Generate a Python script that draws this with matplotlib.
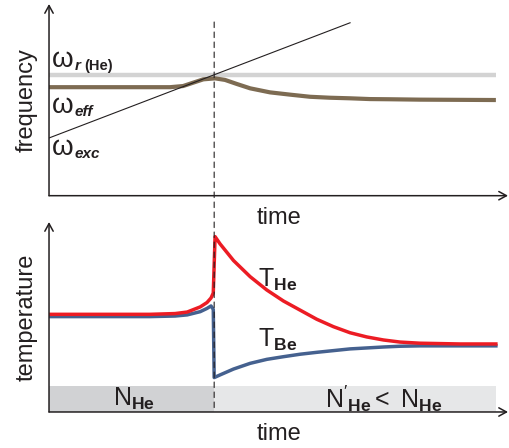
import numpy as np
import matplotlib
matplotlib.use("Agg")
import matplotlib.pyplot as plt
from matplotlib.patches import ConnectionPatch

plt.rcParams['font.family'] = ['Liberation Sans', 'DejaVu Sans']
plt.rcParams['mathtext.fontset'] = 'custom'
plt.rcParams['mathtext.rm'] = 'Liberation Sans'
plt.rcParams['mathtext.it'] = 'Liberation Sans:italic'
plt.rcParams['mathtext.bf'] = 'Liberation Sans:bold'
plt.rcParams['mathtext.bfit'] = 'Liberation Sans:bold:italic'

# event time (dashed line)
t_event = 3.67
t_end = 9.93

# top panel: frequencies
freq_res = 6.30
exc_time = [0, 6.69]
exc_freq = [3.01, 9.02]
eff_time = [0, 2.24, 2.69, 2.98, 3.21, 3.43, 3.69, 3.91, 4.17, 4.47, 4.91,
            5.36, 5.80, 6.24, 6.69, 7.13, 7.58, 8.24, 9.93]
eff_freq = [5.66, 5.66, 5.66, 5.72, 5.90, 6.07, 6.12, 6.04, 5.83, 5.60, 5.39,
            5.27, 5.16, 5.11, 5.08, 5.04, 5.03, 5.01, 4.99]

# bottom panel: temperatures
he_time = [0, 2.24, 2.80, 3.07, 3.36, 3.51, 3.60, 3.65, 3.69, 3.80, 4.10,
           4.47, 4.84, 5.21, 5.58, 5.95, 6.32, 6.69, 7.06, 7.43, 7.80, 8.24,
           9.13, 9.93]
he_temp = [5.14, 5.14, 5.18, 5.26, 5.53, 5.76, 6.00, 6.26, 9.23, 8.85, 7.97,
           7.12, 6.42, 5.84, 5.36, 4.88, 4.49, 4.17, 3.95, 3.79, 3.68, 3.62,
           3.58, 3.58]
be_time = [0, 2.24, 2.80, 3.07, 3.36, 3.51, 3.60, 3.65, 3.67, 3.80, 4.10,
           4.47, 4.84, 5.21, 5.58, 5.95, 6.32, 6.69, 7.06, 7.43, 7.80, 8.24,
           9.93]
be_temp = [5.02, 5.02, 5.05, 5.11, 5.28, 5.45, 5.58, 5.40, 1.81, 1.95, 2.26,
           2.56, 2.77, 2.91, 3.04, 3.14, 3.23, 3.32, 3.37, 3.42, 3.46, 3.48,
           3.48]

# particle number bands
band_left = [0, t_event]
band_width = [t_event, t_end - t_event]
band_height = 1.384
band_labels = [r'$\mathrm{N}_{\mathbf{He}}$',
               r"$\mathrm{N}'_{\mathbf{He}}<\ \mathrm{N}_{\mathbf{He}}$"]

ink = '#231f20'

fig = plt.figure(figsize=(5.09, 4.48), dpi=100)
ax1 = fig.add_axes([0.0963, 0.5632, 0.9018, 0.4279])
ax2 = fig.add_axes([0.0963, 0.0804, 0.9018, 0.4241])

for ax in (ax1, ax2):
    ax.patch.set_visible(False)
    ax.set_xlim(0, 10.2)
    ax.set_ylim(0, 10)
    for s in ax.spines.values():
        s.set_visible(False)
    ax.set_xticks([])
    ax.set_yticks([])
    arrow = dict(arrowstyle='->,head_length=0.55,head_width=0.3', lw=1.1,
                 color=ink, shrinkA=0, shrinkB=0)
    ax.annotate('', xy=(1, 0), xytext=(0, 0), xycoords='axes fraction',
                arrowprops=arrow, annotation_clip=False)
    ax.annotate('', xy=(0, 1), xytext=(0, 0), xycoords='axes fraction',
                arrowprops=arrow, annotation_clip=False)
    ax.set_xlabel('time', fontsize=17, labelpad=8, color=ink)

ax1.set_ylabel('frequency', fontsize=17, labelpad=8, color=ink)
ax2.set_ylabel('temperature', fontsize=17, labelpad=8, color=ink)

# top panel
ax1.plot([0, t_end], [freq_res, freq_res], color='#d3d3d3', lw=3.2,
         solid_capstyle='butt')
ax1.plot(eff_time, eff_freq, color='#7d6b52', lw=3.0, solid_joinstyle='round',
         solid_capstyle='butt')
ax1.plot(exc_time, exc_freq, color=ink, lw=0.8)


def omega_label(ax, y, sub, extra=None):
    w = ax.text(0.07, y, '\u03c9', fontsize=20, va='baseline', ha='left',
                color=ink)
    s = ax.annotate(sub, xy=(1, 0), xycoords=w, xytext=(0.5, 2.5),
                    textcoords='offset points', fontsize=11, va='baseline',
                    ha='left', fontweight='bold', fontstyle='italic', color=ink)
    if extra:
        ax.annotate(extra, xy=(1, 0), xycoords=s, xytext=(2.5, 0),
                    textcoords='offset points', fontsize=10.5, va='bottom',
                    ha='left', fontweight='bold', color=ink)


omega_label(ax1, 6.71, 'r', '(He)')
omega_label(ax1, 4.31, 'eff')
omega_label(ax1, 2.12, 'exc')

# bottom panel
ax2.bar(band_left, [band_height, band_height], width=band_width, align='edge',
        color=['#d1d2d4', '#e6e7e8'], lw=0)
ax2.plot(be_time, be_temp, color='#45618f', lw=2.5, solid_joinstyle='round')
ax2.plot(he_time, he_temp, color='#ec1c24', lw=2.5, solid_joinstyle='round')

ax2.text(4.64, 6.95, r'$\mathrm{T}_{\mathbf{He}}$', fontsize=18,
         va='center', ha='left', color=ink)
ax2.text(4.64, 3.79, r'$\mathrm{T}_{\mathbf{Be}}$', fontsize=18,
         va='center', ha='left', color=ink)
ax2.text(1.89, 0.70, band_labels[0], fontsize=18, va='center', ha='center',
         color=ink)
ax2.text(7.43, 0.70, band_labels[1], fontsize=18, va='center', ha='center',
         color=ink)

# dashed line across both panels
con = ConnectionPatch(xyA=(t_event, 9.06), coordsA=ax1.transData,
                      xyB=(t_event, 0), coordsB=ax2.transData,
                      color=ink, lw=0.8, linestyle=(0, (5, 4)))
fig.add_artist(con)

fig.savefig('out.png', dpi=100)
